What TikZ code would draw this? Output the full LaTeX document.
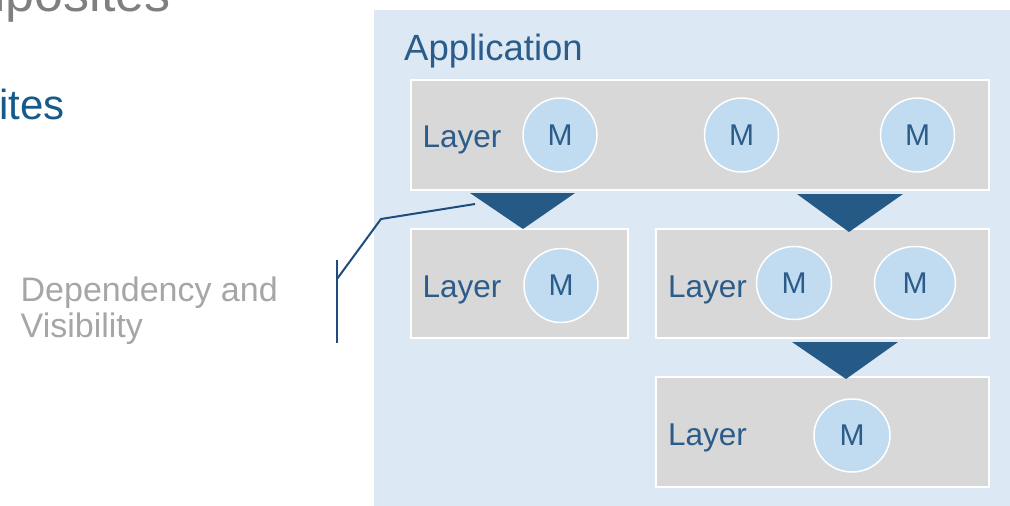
\documentclass[tikz,border=0pt]{standalone}
\usepackage{fontspec}
\setmainfont{Liberation Sans}
\usetikzlibrary{shapes.geometric}

\definecolor{panelbg}{HTML}{DCE9F5}
\definecolor{layerbg}{HTML}{D8D8D8}
\definecolor{modfill}{HTML}{C1DCF1}
\definecolor{inkblue}{HTML}{2B5C8A}
\definecolor{arrowblue}{HTML}{255A87}
\definecolor{calloutblue}{HTML}{1F4B7E}
\definecolor{titlegray}{HTML}{7F7F7F}
\definecolor{subblue}{HTML}{165A8C}
\definecolor{notegray}{HTML}{A6A6A6}

\tikzset{
  layerbox/.style={draw=white, line width=1.5pt, fill=layerbg, inner sep=0pt, outer sep=0pt},
  module/.style={ellipse, draw=white, line width=1.5pt, fill=modfill, inner sep=0pt,
    minimum width=74pt, minimum height=74pt, text=inkblue, font=\fontsize{30}{30}\selectfont},
  layerlabel/.style={anchor=base west, inner sep=0pt, text=inkblue, font=\fontsize{31.5}{31.5}\selectfont},
  deparrow/.style={fill=arrowblue},
  calloutline/.style={draw=calloutblue, line width=2pt},
}

\begin{document}
\begin{tikzpicture}[x=1pt, y=-1pt]
  \path[use as bounding box] (0,0) rectangle (1010,506);
  \clip (0,0) rectangle (1010,506);

  % slide headings
  \node[anchor=base west, inner sep=0pt, text=titlegray, font=\fontsize{52}{52}\selectfont]
    (title) at (-104,12) {Composites};
  \node[anchor=base west, inner sep=0pt, text=subblue, font=\fontsize{42}{42}\selectfont]
    (subtitle) at (-1.2,119) {ites};

  % application panel
  \fill[panelbg] (374,10) rectangle (1012,510);
  \node[anchor=base west, inner sep=0pt, text=inkblue, font=\fontsize{36.5}{36.5}\selectfont]
    (app) at (404,60) {Application};

  % layers
  \node[layerbox, minimum width=578pt, minimum height=110pt] (L1) at (700,135) {};
  \node[layerbox, minimum width=217pt, minimum height=109pt] (L2) at (519.5,283.5) {};
  \node[layerbox, minimum width=333pt, minimum height=109pt] (L3) at (822.5,283.5) {};
  \node[layerbox, minimum width=333pt, minimum height=110pt] (L4) at (822.5,432) {};

  \node[layerlabel] (t1) at (422.5,147) {Layer};
  \node[layerlabel] (t2) at (422.5,297) {Layer};
  \node[layerlabel] (t3) at (668,297) {Layer};
  \node[layerlabel] (t4) at (668,445) {Layer};

  % modules
  \node[module] (m1) at (560,135) {M};
  \node[module] (m2) at (741.5,135) {M};
  \node[module] (m3) at (917.5,135) {M};
  \node[module] (m4) at (561,285.5) {M};
  \node[module, minimum width=75pt, minimum height=73pt] (m5) at (794,283) {M};
  \node[module, minimum width=81pt, minimum height=73pt] (m6) at (915,283) {M};
  \node[module, minimum width=76pt, minimum height=73pt] (m7) at (852,435.5) {M};

  % dependency arrows between layers
  \fill[deparrow] (470,193) -- (575,193) -- (523,229) -- cycle;
  \fill[deparrow] (797,194) -- (903,194) -- (849,232) -- cycle;
  \fill[deparrow] (792,342) -- (898,342) -- (846,379) -- cycle;

  % callout
  \coordinate (c1) at (475,204);
  \coordinate (c2) at (381,219);
  \coordinate (c3) at (337,279);
  \coordinate (b1) at (337,260);
  \coordinate (b2) at (337,343);
  \draw[calloutline] (c1) -- (c2) -- (c3);
  \draw[calloutline] (b1) -- (b2);

  % two-line label; the base anchor sits on the last line
  \node[anchor=base west, inner sep=0pt, align=left, text=notegray,
        font=\fontsize{34}{36}\selectfont] (note) at (20.5,337)
    {Dependency and\\Visibility};
\end{tikzpicture}
\end{document}
